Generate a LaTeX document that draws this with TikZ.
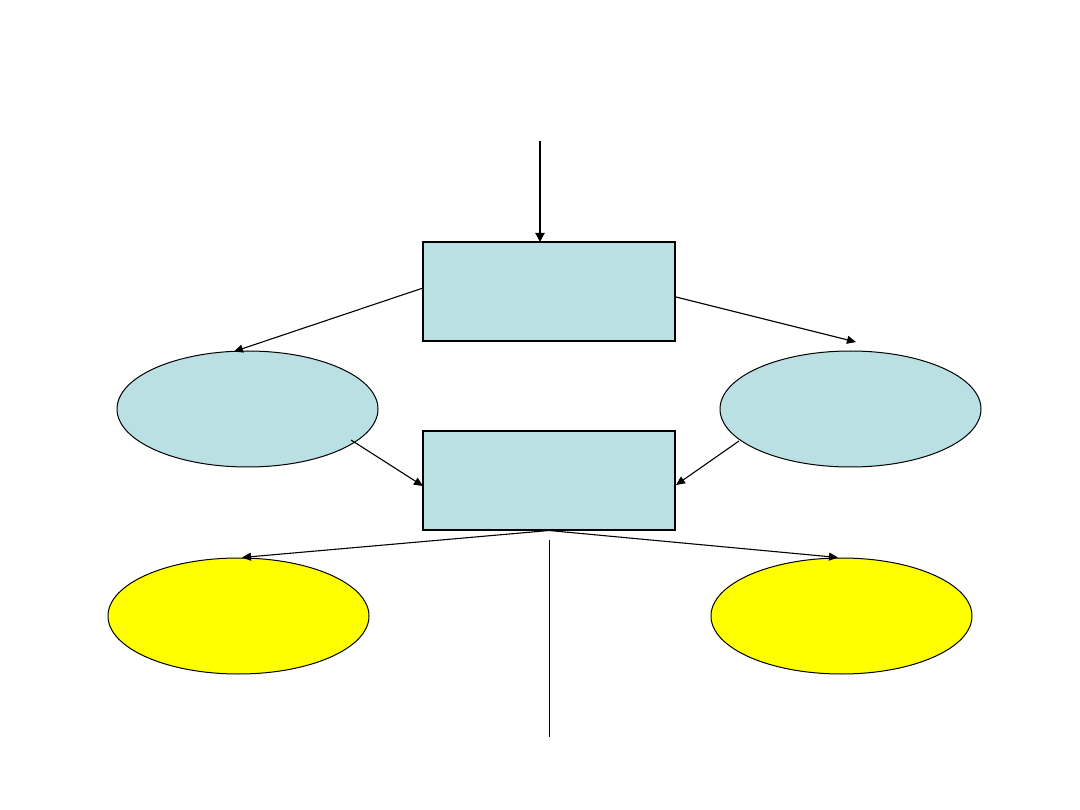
\documentclass[tikz,border=0pt]{standalone}
\usetikzlibrary{arrows.meta,shapes.geometric}
\definecolor{lblue}{RGB}{187,224,227}
\definecolor{yel}{RGB}{255,255,0}
\tikzset{
  boxnode/.style={draw=black, line width=1.8pt, fill=lblue, minimum width=252pt, minimum height=99pt, inner sep=0pt, outer sep=0pt},
  bluell/.style={ellipse, draw=black, line width=1pt, fill=lblue, minimum width=261pt, minimum height=116pt, inner sep=0pt, outer sep=0pt},
  yelll/.style={ellipse, draw=black, line width=1pt, fill=yel, minimum width=261pt, minimum height=116pt, inner sep=0pt, outer sep=0pt},
  conn/.style={line width=1.1pt, -{Triangle[length=9pt,width=8pt]}},
  thickconn/.style={line width=2pt, -{Triangle[length=9pt,width=9pt]}},
}
\begin{document}
\begin{tikzpicture}[x=1pt,y=-1pt]
\useasboundingbox (0,0) rectangle (1080,810);
\node[boxnode] (b1) at (549,291.5) {};
\node[boxnode] (b2) at (549,480.5) {};
\node[bluell] (e1) at (247.5,409) {};
\node[bluell] (e2) at (850.5,409) {};
\node[yelll] (y1) at (238.5,616) {};
\node[yelll] (y2) at (841.5,616) {};
\coordinate (top) at (540,141);
\coordinate (b1top) at (540,242);
\coordinate (b1l) at (423,288);
\coordinate (e1top) at (234,351.5);
\coordinate (b1r) at (676,297);
\coordinate (e2tip) at (856,342);
\coordinate (e1br) at (351,440);
\coordinate (b2l) at (423,486);
\coordinate (e2bl) at (739,441);
\coordinate (b2r) at (676,485);
\coordinate (b2b) at (549,530.5);
\coordinate (y1top) at (242,557.5);
\coordinate (y2top) at (838,557.5);
\coordinate (vl1) at (549,540);
\coordinate (vl2) at (549,737);
\draw[thickconn] (top) -- (b1top);
\draw[conn] (b1l) -- (e1top);
\draw[conn] (b1r) -- (e2tip);
\draw[conn] (e1br) -- (b2l);
\draw[conn] (e2bl) -- (b2r);
\draw[conn] (b2b) -- (y1top);
\draw[conn] (b2b) -- (y2top);
\draw[line width=0.9pt] (vl1) -- (vl2);
\end{tikzpicture}
\end{document}
